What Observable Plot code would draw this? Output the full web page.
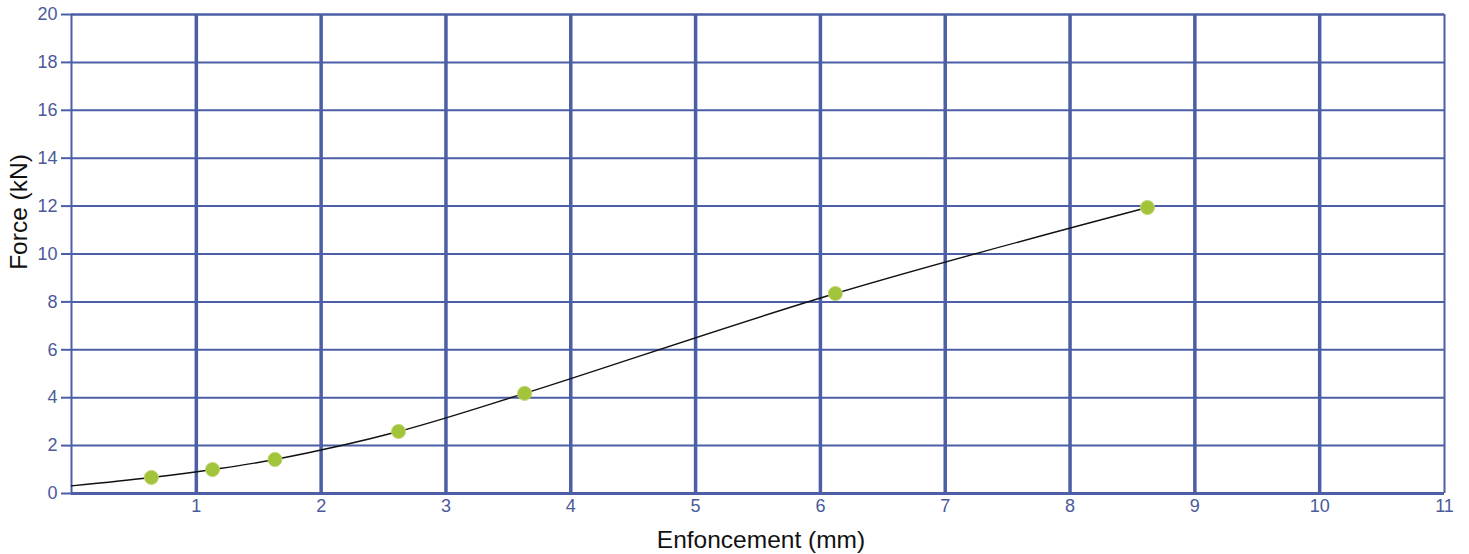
<!DOCTYPE html>
<html>
<head>
<meta charset="utf-8">
<script src="https://cdn.jsdelivr.net/npm/d3@7"></script>
<script src="https://cdn.jsdelivr.net/npm/@observablehq/plot@0.6"></script>
<style>
  html, body { margin: 0; padding: 0; background: #fff; }
  svg { display: block; }
</style>
</head>
<body>
<div id="chart"></div>
<script>
// Data
const enfoncement = [0.64, 1.13, 1.63, 2.62, 3.63, 6.12, 8.62]; // mm
const force = [0.67, 1.0, 1.42, 2.59, 4.18, 8.35, 11.94];        // kN
// Curve starts at the y-axis
const curveStartX = 0;
const curveStartY = 0.32;

const xTicks = [1, 2, 3, 4, 5, 6, 7, 8, 9, 10, 11];
const yTicks = [0, 2, 4, 6, 8, 10, 12, 14, 16, 18, 20];
const xLabel = "Enfoncement (mm)";
const yLabel = "Force (kN)";

const points = enfoncement.map((x, i) => ({x, y: force[i]}));
const curve = [{x: curveStartX, y: curveStartY}, ...points];

const grid = "#4b5ea6";
const tickColor = "#4a5a9a";

const chart = Plot.plot({
  width: 1469,
  height: 554,
  marginLeft: 71,
  marginRight: 25,
  marginTop: 14,
  marginBottom: 61,
  style: {fontFamily: "Liberation Sans, Arial, sans-serif", background: "#fff"},
  x: {domain: [0, 11]},
  y: {domain: [0, 20]},
  marks: [
    Plot.ruleY(yTicks.filter(d => d > 0 && d < 20), {stroke: grid, strokeWidth: 2}),
    Plot.ruleX(xTicks.filter(d => d < 11), {stroke: grid, strokeWidth: 3.5}),
    Plot.ruleX([0, 11], {stroke: grid, strokeWidth: 2}),
    Plot.ruleY([0], {stroke: grid, strokeWidth: 3}),
    Plot.ruleY([20], {stroke: grid, strokeWidth: 2.5}),
    Plot.axisY({ticks: yTicks, tickSize: 10, tickPadding: 4, fontSize: 18, stroke: grid, strokeWidth: 2, color: tickColor, label: null}),
    Plot.axisX({ticks: xTicks, tickSize: 0, tickPadding: 6, fontSize: 18, color: tickColor, label: null}),
    Plot.line(curve, {x: "x", y: "y", curve: "catmull-rom", stroke: "#111", strokeWidth: 1.4}),
    Plot.dot(points, {x: "x", y: "y", r: 7, fill: "#a2c43a", stroke: "#bfd36f", strokeWidth: 1}),
    Plot.text([xLabel], {frameAnchor: "bottom", dx: 3, dy: 47, fontSize: 24.5, fill: "#111", lineAnchor: "middle"}),
    Plot.text([yLabel], {frameAnchor: "left", dx: -52, dy: -42, rotate: -90, textAnchor: "middle", fontSize: 24.5, fill: "#111"})
  ]
});
document.getElementById("chart").appendChild(chart);
</script>
</body>
</html>
